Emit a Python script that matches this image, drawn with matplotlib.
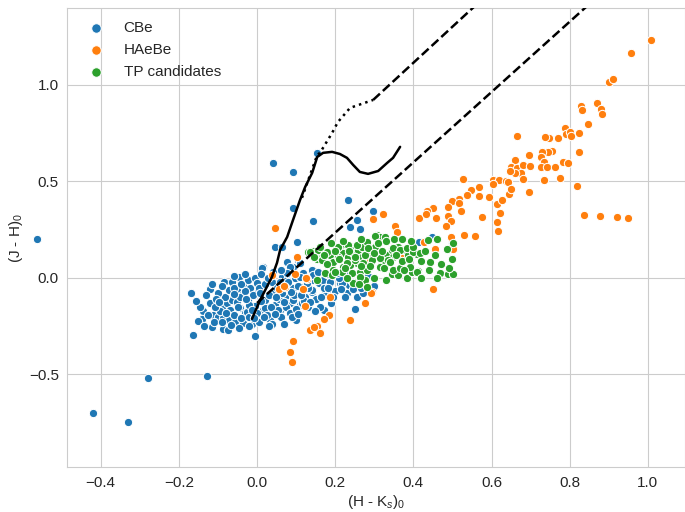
import numpy as np
import matplotlib
matplotlib.use("Agg")
import matplotlib.pyplot as plt
import seaborn as sns

# classical Be stars
cbe = [
    (-0.563, 0.20), (-0.42, -0.70), (-0.33, -0.746), (-0.279, -0.518), (-0.128, -0.508),
    (-0.169, -0.078), (-0.164, -0.295), (-0.138, -0.171), (-0.141, -0.212), (-0.151, -0.223),
    (-0.115, -0.254), (-0.087, -0.264), (-0.113, -0.192), (-0.100, -0.202), (-0.087, -0.207),
    (-0.072, -0.218), (-0.056, -0.228), (-0.090, -0.150), (-0.077, -0.130), (-0.064, -0.114),
    (-0.069, -0.166), (-0.082, -0.098), (-0.084, -0.021), (-0.064, -0.021), (-0.046, 0.005),
    (-0.072, -0.062), (-0.051, -0.062), (-0.036, -0.036), (-0.038, -0.088), (-0.051, -0.124),
    (-0.044, -0.155), (-0.031, -0.181), (-0.036, -0.233), (-0.023, -0.114), (-0.018, -0.052),
    (-0.023, -0.010), (-0.005, 0.0), (0.0, -0.026), (0.0, -0.078), (-0.005, -0.145),
    (0.015, -0.166), (0.020, -0.114), (0.015, 0.057), (0.038, -0.021), (0.041, -0.073),
    (0.046, -0.140), (0.059, -0.166), (0.033, -0.218), (0.064, 0.005), (0.067, -0.036),
    (0.072, -0.098), (0.084, -0.130), (0.092, -0.052), (0.097, 0.0), (0.092, 0.057),
    (0.105, 0.093), (0.115, -0.047), (0.123, -0.098), (0.110, -0.140), (0.131, -0.150),
    (0.141, -0.073), (0.143, -0.010), (0.118, 0.026), (0.141, 0.041), (0.077, 0.083),
    (0.046, 0.161), (0.064, 0.161), (0.013, 0.052), (0.102, 0.187), (0.041, 0.596),
    (0.092, 0.549), (0.154, 0.648), (0.233, 0.404), (0.297, 0.347), (0.143, 0.295),
    (0.092, 0.363), (0.256, 0.30), (0.264, 0.254), (0.238, 0.264), (0.415, 0.187),
    (0.448, 0.212), (0.50, 0.181), (0.23, -0.078), (0.256, -0.098), (0.25, -0.16),
    (0.171, -0.166), (0.161, -0.285), (0.038, -0.238), (-0.013, -0.238), (-0.005, -0.30),
    (-0.044, -0.098), (-0.026, -0.176), (0.020, -0.155), (0.054, -0.166), (0.092, -0.114),
    (0.115, -0.130), (0.141, -0.062), (0.159, -0.026), (0.179, -0.078), (0.212, -0.026),
    (0.235, -0.036), (0.171, -0.088), (0.077, -0.010), (0.110, 0.005), (0.143, 0.016),
    (0.169, -0.010), (0.187, -0.021), (0.218, -0.026), (0.084, 0.057), (0.110, 0.078),
    (0.077, 0.026), (-0.12, -0.13), (-0.10, -0.08), (-0.11, -0.23), (-0.095, -0.17),
    (-0.06, -0.19), (-0.06, -0.05), (-0.05, -0.15), (-0.04, -0.21), (-0.03, -0.07),
    (-0.02, -0.14), (-0.02, -0.20), (-0.01, -0.09), (0.0, -0.18), (0.005, -0.05),
    (0.01, -0.12), (0.02, -0.03), (0.025, -0.19), (0.03, -0.09), (0.035, -0.15),
    (0.05, -0.05), (0.055, -0.11), (0.06, -0.20), (0.065, -0.08), (0.075, -0.15),
    (0.08, -0.02), (0.085, -0.18), (0.095, -0.09), (0.10, -0.16), (0.105, -0.04),
    (0.12, -0.12), (0.125, 0.0), (0.13, -0.05), (0.15, -0.11), (0.155, 0.03),
    (0.16, -0.15), (0.17, -0.05), (0.18, 0.02), (0.19, -0.13), (0.20, -0.07),
    (0.21, 0.0), (0.225, -0.10), (0.23, 0.03), (0.245, -0.06), (0.26, -0.01),
    (0.27, -0.08), (0.285, 0.01), (0.30, -0.04), (-0.135, -0.25), (-0.125, -0.19),
    (-0.09, -0.23), (-0.075, -0.27), (-0.045, -0.26), (-0.02, -0.25), (0.005, -0.23),
    (-0.06, 0.01), (-0.03, 0.02), (0.01, 0.02), (0.04, 0.03), (0.06, 0.04),
    (-0.09, -0.04), (-0.105, -0.11), (-0.12, -0.06), (0.03, -0.25), (0.07, -0.24),
    (0.10, -0.22), (-0.13, -0.09), (-0.145, -0.15), (-0.108, -0.15), (-0.097, -0.125),
    (-0.08, -0.18), (-0.067, -0.245), (-0.058, -0.085), (-0.042, -0.03), (-0.028, -0.11),
    (-0.012, -0.165), (-0.008, -0.21), (0.008, -0.08), (0.018, -0.2), (0.028, 0.0),
    (0.045, -0.185), (0.048, -0.1), (0.058, -0.02), (0.07, -0.125), (0.088, -0.075),
    (0.09, -0.2), (0.105, -0.185), (0.113, -0.09), (0.128, -0.025), (0.135, -0.125),
    (0.148, -0.17), (0.163, -0.1), (0.182, -0.05), (0.195, -0.1), (0.205, 0.025),
    (0.215, -0.055), (0.24, -0.01), (0.265, -0.05), (-0.155, -0.12), (-0.115, -0.03),
]

# Herbig Ae/Be stars
haebe = [
    (1.008, 1.233), (0.957, 1.166), (0.901, 1.015), (0.911, 1.031), (0.829, 0.891),
    (0.832, 0.870), (0.870, 0.907), (0.880, 0.876), (0.883, 0.850), (0.847, 0.798),
    (0.824, 0.751), (0.788, 0.777), (0.791, 0.746), (0.801, 0.756), (0.804, 0.736),
    (0.770, 0.725), (0.747, 0.725), (0.737, 0.731), (0.665, 0.736), (0.755, 0.658),
    (0.745, 0.653), (0.729, 0.653), (0.727, 0.627), (0.735, 0.601), (0.824, 0.653),
    (0.696, 0.637), (0.660, 0.611), (0.783, 0.601), (0.796, 0.596), (0.650, 0.575),
    (0.665, 0.570), (0.681, 0.585), (0.699, 0.580), (0.727, 0.575), (0.742, 0.575),
    (0.763, 0.575), (0.676, 0.544), (0.660, 0.544), (0.648, 0.554), (0.681, 0.513),
    (0.735, 0.508), (0.776, 0.518), (0.819, 0.477), (0.527, 0.513), (0.604, 0.508),
    (0.619, 0.508), (0.637, 0.503), (0.642, 0.497), (0.604, 0.487), (0.568, 0.472),
    (0.548, 0.456), (0.594, 0.420), (0.568, 0.425), (0.538, 0.430), (0.517, 0.409),
    (0.499, 0.399), (0.517, 0.389), (0.489, 0.368), (0.614, 0.383), (0.627, 0.404),
    (0.645, 0.435), (0.650, 0.461), (0.696, 0.446), (0.522, 0.347), (0.622, 0.337),
    (0.489, 0.321), (0.497, 0.295), (0.484, 0.269), (0.576, 0.316), (0.614, 0.290),
    (0.617, 0.244), (0.450, 0.363), (0.435, 0.347), (0.415, 0.311), (0.458, 0.311),
    (0.530, 0.223), (0.558, 0.218), (0.497, 0.212), (0.837, 0.326), (0.878, 0.321),
    (0.921, 0.316), (0.950, 0.311), (0.323, 0.332), (0.297, 0.306), (0.353, 0.269),
    (0.358, 0.238), (0.433, 0.332), (0.371, 0.104), (0.450, -0.057), (0.427, 0.187),
    (0.456, 0.150), (0.502, 0.150), (0.289, 0.093), (0.294, -0.073), (0.046, 0.259),
    (0.102, 0.109), (0.097, 0.021), (0.128, -0.005), (0.056, -0.057), (0.072, -0.047),
    (0.118, -0.057), (0.292, -0.078), (0.187, -0.098), (0.276, -0.13), (0.123, -0.145),
    (0.238, -0.218), (0.184, -0.192), (0.154, -0.249), (0.136, -0.269), (0.161, -0.285),
    (0.069, -0.041), (0.092, -0.326), (0.084, -0.383), (0.09, -0.435), (0.038, 0.016),
    (0.125, 0.0), (0.171, -0.212), (0.146, -0.254),
]

# TP candidates
tp = [
    (0.131, 0.135), (0.143, 0.140), (0.159, 0.135), (0.154, 0.098), (0.166, 0.093),
    (0.187, 0.119), (0.195, 0.083), (0.212, 0.161), (0.225, 0.176), (0.238, 0.161),
    (0.220, 0.130), (0.207, 0.109), (0.233, 0.109), (0.246, 0.130), (0.259, 0.145),
    (0.271, 0.161), (0.279, 0.187), (0.307, 0.223), (0.315, 0.212), (0.302, 0.161),
    (0.289, 0.130), (0.269, 0.109), (0.256, 0.078), (0.238, 0.067), (0.220, 0.057),
    (0.195, 0.041), (0.218, 0.031), (0.243, 0.026), (0.264, 0.031), (0.282, 0.041),
    (0.276, -0.010), (0.246, -0.021), (0.320, 0.078), (0.333, 0.119), (0.346, 0.145),
    (0.348, 0.109), (0.361, 0.161), (0.379, 0.145), (0.387, 0.119), (0.410, 0.124),
    (0.346, 0.021), (0.361, 0.016), (0.384, 0.0), (0.397, 0.031), (0.412, 0.036),
    (0.443, 0.083), (0.468, 0.026), (0.489, 0.021), (0.502, 0.021), (0.461, 0.202),
    (0.502, 0.181), (0.136, 0.135), (0.156, 0.145), (0.179, 0.135), (0.207, 0.161),
    (0.233, 0.171), (0.269, 0.161), (0.282, 0.187), (0.302, 0.218), (0.328, 0.212),
    (0.348, 0.155), (0.366, 0.145), (0.384, 0.155), (0.399, 0.135), (0.417, 0.130),
    (0.438, 0.197), (0.230, 0.078), (0.251, 0.093), (0.271, 0.078), (0.294, 0.093),
    (0.315, 0.104), (0.335, 0.093), (0.315, 0.057), (0.348, 0.041), (0.366, 0.052),
    (0.392, 0.057), (0.410, 0.031), (0.264, 0.005), (0.282, -0.047), (0.246, -0.026),
    (0.174, 0.026), (0.192, 0.016), (0.154, -0.010), (0.17, 0.12), (0.18, 0.07),
    (0.20, 0.14), (0.21, 0.10), (0.225, 0.05), (0.235, 0.14), (0.25, 0.11),
    (0.255, 0.17), (0.265, 0.06), (0.275, 0.12), (0.285, 0.155), (0.29, 0.06),
    (0.30, 0.13), (0.31, 0.18), (0.32, 0.14), (0.325, 0.05), (0.34, 0.08),
    (0.355, 0.12), (0.37, 0.09), (0.375, 0.04), (0.39, 0.10), (0.40, 0.16),
    (0.42, 0.09), (0.43, 0.14), (0.44, 0.04), (0.455, 0.12), (0.47, 0.07),
    (0.485, 0.15), (0.49, 0.05), (0.50, 0.10), (0.145, 0.11), (0.16, 0.16),
    (0.19, 0.18), (0.22, 0.19), (0.265, 0.20), (0.33, 0.19), (0.35, 0.20),
    (0.37, 0.20), (0.395, 0.19), (0.20, 0.03), (0.23, 0.0), (0.26, -0.03),
    (0.30, 0.0), (0.33, -0.01), (0.42, 0.0), (0.46, 0.0),
]

# dwarf locus (solid) and giant branch (dotted)
dwarf_x = [-0.013, 0.008, 0.038, 0.051, 0.059, 0.077, 0.092, 0.110, 0.123, 0.141, 0.154,
           0.169, 0.192, 0.212, 0.230, 0.246, 0.263, 0.284, 0.310, 0.333, 0.348, 0.366]
dwarf_y = [-0.212, -0.114, 0.005, 0.078, 0.145, 0.212, 0.300, 0.404, 0.471, 0.544, 0.627,
           0.648, 0.653, 0.642, 0.622, 0.585, 0.549, 0.539, 0.554, 0.596, 0.622, 0.679]
giant_x = [0.115, 0.135, 0.154, 0.161, 0.192, 0.207, 0.238, 0.297]
giant_y = [0.415, 0.530, 0.637, 0.648, 0.751, 0.808, 0.881, 0.922]

# reddening vectors
red_upper_x = [0.297, 0.58]
red_upper_y = [0.922, 1.451]
red_lower_x = [0.0, 0.87]
red_lower_y = [-0.13, 1.455]

sns.set_style("whitegrid")
plt.rcParams['font.family'] = ['Liberation Sans', 'DejaVu Sans']
plt.rcParams['mathtext.fontset'] = 'custom'
plt.rcParams['mathtext.rm'] = 'Liberation Sans'
plt.rcParams['mathtext.it'] = 'Liberation Sans:italic'

fig = plt.figure(figsize=(6.85, 5.12), dpi=100)
ax = fig.add_axes([0.098, 0.087, 0.902, 0.898])

colors = ["#1f77b4", "#ff7f0e", "#2ca02c"]
series = [("CBe", cbe), ("HAeBe", haebe), ("TP candidates", tp)]
for (name, pts), c in zip(series, colors):
    arr = np.array(pts)
    sc = ax.scatter(arr[:, 0], arr[:, 1], s=36, color=c, edgecolor="white",
                    linewidth=0.75, label=name, zorder=2)
    if name == "CBe":
        sc.set_clip_on(False)

ax.plot(dwarf_x, dwarf_y, color="black", lw=1.8, zorder=3)
ax.plot(giant_x, giant_y, color="black", lw=1.8, ls=":", zorder=3)
ax.plot(red_upper_x, red_upper_y, color="black", lw=1.8, ls="--", zorder=3)
ax.plot(red_lower_x, red_lower_y, color="black", lw=1.8, ls="--", zorder=3)

ax.set_xlim(-0.486, 1.095)
ax.set_ylim(-0.982, 1.40)
ax.set_xticks([-0.4, -0.2, 0.0, 0.2, 0.4, 0.6, 0.8, 1.0])
ax.set_yticks([-0.5, 0.0, 0.5, 1.0])
ax.tick_params(labelsize=11, pad=2.5)
ax.set_xlabel("(H - K$_s$)$_0$", fontsize=11, labelpad=2)
ax.set_ylabel("(J - H)$_0$", fontsize=11, labelpad=3)
ax.legend(loc="upper left", frameon=False, fontsize=11, markerscale=1.15)

plt.savefig("out.png", dpi=100)
